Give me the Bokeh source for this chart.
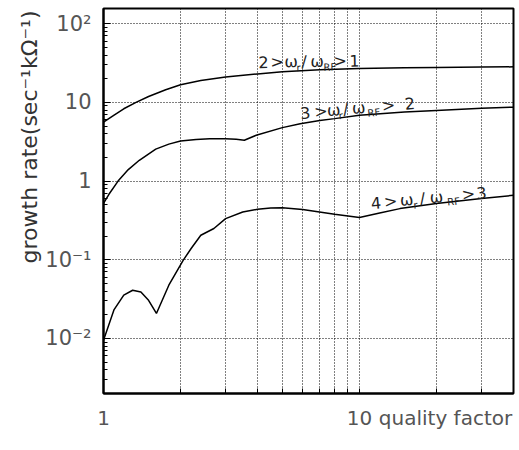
import math
from bokeh.plotting import figure
from bokeh.models import FixedTicker, Label, Title
from bokeh.embed import file_html
from bokeh.resources import INLINE

# ---------------- data ----------------
q_band1 = [1.0, 1.1, 1.2, 1.34, 1.5, 1.75, 2.0, 2.4, 3.0, 4.0, 5.0, 7.0, 10.0, 15.0, 20.0, 30.0, 40.0]
g_band1 = [5.6, 6.9, 8.3, 10.0, 11.9, 14.5, 16.8, 19.0, 21.0, 23.0, 24.5, 26.0, 26.9, 27.5, 27.8, 28.1, 28.3]

q_band2 = [1.0, 1.05, 1.14, 1.25, 1.38, 1.6, 1.8, 2.0, 2.3, 2.6, 3.0, 3.3, 3.55, 3.95, 5.0, 5.87, 7.0, 8.0, 10.0, 15.0, 20.0, 30.0, 40.0]
g_band2 = [0.52, 0.68, 1.0, 1.4, 1.84, 2.55, 2.95, 3.23, 3.38, 3.45, 3.45, 3.4, 3.3, 3.82, 4.78, 5.37, 5.9, 6.22, 6.86, 7.53, 7.9, 8.4, 8.7]

q_band3 = [1.0, 1.1, 1.2, 1.3, 1.4, 1.5, 1.61, 1.8, 2.05, 2.2, 2.4, 2.7, 3.0, 3.5, 4.0, 4.5, 5.0, 6.0, 8.0, 10.0, 12.0, 14.4, 20.0, 30.0, 40.0]
g_band3 = [0.0095, 0.0233, 0.0355, 0.041, 0.039, 0.0306, 0.0208, 0.0475, 0.099, 0.139, 0.205, 0.25, 0.334, 0.405, 0.438, 0.455, 0.457, 0.435, 0.378, 0.344, 0.393, 0.447, 0.52, 0.6, 0.66]

x_major = [1, 10]
x_minor = [2, 3, 4, 5, 6, 7, 8, 9, 20, 30, 40]
x_tick_text = ["1", "10"]

y_major = [100, 10, 1, 0.1, 0.01]
y_tick_text = ["10\u00b2", "10", "1", "10\u207b\u00b9", "10\u207b\u00b2"]

x_title = "quality factor"
y_title = "growth rate(sec\u207b\u00b9k\u03a9\u207b\u00b9)"

band_labels = [
    # (upper, lower) harmonic bounds
    ("2", "1"),
    ("3", "2"),
    ("4", "3"),
]

FONT = "DejaVu Sans"
TXT = "#333333"
TICK_TXT = "#555555"

X0, X1 = 1, 40
Y0, Y1 = 0.002, 156
X_TITLE_AT = 21.7   # where the x title is centred along the bottom axis

p = figure(width=519, height=450, x_axis_type="log", y_axis_type="log",
           x_range=(X0, X1), y_range=(Y0, Y1),
           output_backend="svg", toolbar_location=None,
           min_border_left=103, min_border_right=6, min_border_top=8, min_border_bottom=57)

p.background_fill_color = "white"
p.border_fill_color = "white"
p.outline_line_color = "black"
p.outline_line_width = 2

y_minor = [k * 10.0 ** e for e in range(-3, 3) for k in range(2, 10) if Y0 <= k * 10.0 ** e <= Y1]

# bottom axis: tick marks drawn as (short) minor ticks, labels on the majors,
# the axis title rides along as one more label at the right end
p.xaxis.ticker = FixedTicker(ticks=x_major + [X_TITLE_AT], minor_ticks=x_minor + [10])
p.xaxis.major_label_overrides = dict(zip(x_major + [X_TITLE_AT], x_tick_text + [x_title]))
p.xaxis.major_tick_in = 0
p.xaxis.major_tick_out = 0
p.xaxis.minor_tick_in = 5
p.xaxis.major_label_text_font_size = "20px"

p.yaxis.ticker = FixedTicker(ticks=y_major, minor_ticks=y_minor)
p.yaxis.major_label_overrides = dict(zip(y_major, y_tick_text))
p.yaxis.major_tick_in = 7
p.yaxis.major_tick_out = 0
p.yaxis.minor_tick_in = 4
p.yaxis.major_label_text_font_size = "21px"

for ax in (p.xaxis, p.yaxis):
    ax.axis_line_width = 2
    ax.axis_line_color = "black"
    ax.minor_tick_out = 0
    ax.major_tick_line_color = "black"
    ax.minor_tick_line_color = "black"
    ax.major_label_text_font = FONT
    ax.major_label_text_color = TICK_TXT
    ax.major_label_standoff = 12

p.xgrid.ticker = FixedTicker(ticks=x_major, minor_ticks=x_minor)
p.xgrid.grid_line_color = "black"
p.xgrid.grid_line_dash = "1 2"
p.xgrid.minor_grid_line_color = "black"
p.xgrid.minor_grid_line_dash = "1 2"
p.ygrid.grid_line_color = "black"
p.ygrid.grid_line_dash = "1 2"
p.ygrid.minor_grid_line_color = None

p.add_layout(Title(text=y_title, align="right", offset=2, standoff=2,
                   text_font=FONT, text_font_size="22px", text_font_style="normal",
                   text_color=TXT), "left")

for qs, gs in ((q_band1, g_band1), (q_band2, g_band2), (q_band3, g_band3)):
    p.line(qs, gs, line_color="black", line_width=1.5)


def add_text(x, y, text, dx=0, dy=0, size=16, angle=0.0, color=TXT):
    p.add_layout(Label(x=x, y=y, x_offset=dx, y_offset=dy, text=text,
                       text_font=FONT, text_font_size=f"{size}px",
                       text_color=color, angle=angle, text_align="left",
                       text_baseline="alphabetic"))


# ---- curve labels (glyph-by-glyph so the subscripts sit right) ----
label_anchor = [(4.03, 32.3, 1.0), (5.87, 7.26, 5.2), (11.1, 0.522, 5.4)]
label_steps = [
    [0, 12, 26, 38, 43, 52, 65, 75, 91],
    [0, 14, 27, 38, 43, 52, 67, 82, 105],
    [0, 13, 29, 42, 49, 59, 76, 91, 106],
]
for (hi, lo), (ax_, ay_, deg), steps in zip(band_labels, label_anchor, label_steps):
    th = math.radians(deg)
    pieces = [(hi, False), (">", False), ("\u03c9", False), ("r", True),
              ("/", False), ("\u03c9", False), ("RF", True), (">", False), (lo, False)]
    for (t, sub), d in zip(pieces, steps):
        s = 6 if sub else 0
        dx = d * math.cos(th) + s * math.sin(th)
        dy = d * math.sin(th) - s * math.cos(th)
        add_text(ax_, ay_, t, dx=dx, dy=dy, size=10 if sub else 16, angle=th,
                 color="#222222")

open("out.html", "w").write(file_html(p, INLINE))
